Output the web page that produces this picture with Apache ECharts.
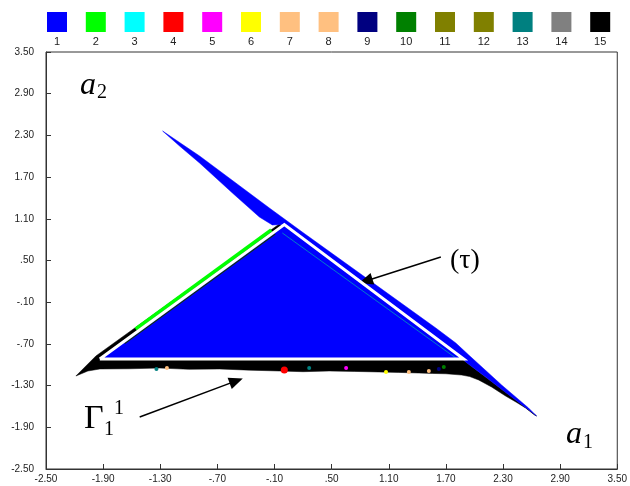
<!DOCTYPE html>
<html>
<head>
<meta charset="utf-8">
<title>basins</title>
<script src="https://cdn.jsdelivr.net/npm/echarts@6/dist/echarts.min.js"></script>
<style>
html, body { margin: 0; padding: 0; background: #fff; }
#chart { width: 630px; height: 486px; }
</style>
</head>
<body>
<div id="chart"></div>
<script>
var chart = echarts.init(document.getElementById('chart'));

// classes shown in the colour strip on top
var classNames = ['1', '2', '3', '4', '5', '6', '7', '8', '9', '10', '11', '12', '13', '14', '15'];
var classColors = ['#0000ff', '#00ff00', '#00ffff', '#ff0000', '#ff00ff', '#ffff00', '#ffc080', '#ffc080',
    '#000080', '#008000', '#808000', '#808000', '#008080', '#808080', '#000000'];
var legendValues = [1, 1, 1, 1, 1, 1, 1, 1, 1, 1, 1, 1, 1, 1, 1];

// tick values, same on both axes
var axisTicks = [-2.5, -1.9, -1.3, -0.7, -0.1, 0.5, 1.1, 1.7, 2.3, 2.9, 3.5];

// basin of class 15 (black band under the triangle)
var basinBlack = [
    [-2.186, -1.162], [-1.976, -0.874], [-0.050, 1.025], [0.055, 0.968], [1.908, -0.960],
    [2.599, -1.680], [2.652, -1.737], [2.631, -1.723], [2.537, -1.622], [2.440, -1.540],
    [2.327, -1.450], [2.180, -1.320], [2.044, -1.219], [1.950, -1.170], [1.866, -1.148],
    [1.700, -1.130], [1.560, -1.125], [1.416, -1.119], [1.200, -1.110], [0.997, -1.104],
    [0.740, -1.096], [0.474, -1.090], [0.200, -1.100], [-0.050, -1.090], [-0.360, -1.078],
    [-0.678, -1.061], [-1.000, -1.066], [-1.306, -1.047], [-1.620, -1.058], [-1.935, -1.061],
    [-2.060, -1.090]
];

// basin of class 1 outside the triangle (upper streak, right strip, tail)
var basinBlue = [
    [-1.275, 2.363], [-0.887, 2.004], [-0.605, 1.716], [-0.154, 1.255], [0.191, 0.910],
    [0.893, 0.219], [1.594, -0.471], [1.804, -0.687], [1.940, -0.860], [2.285, -1.291],
    [2.568, -1.622], [2.652, -1.737],
    [2.599, -1.680], [2.390, -1.464], [2.118, -1.176], [1.908, -0.960], [1.887, -0.917],
    [0.003, 1.018], [-0.123, 1.011],
    [-0.259, 1.126], [-0.542, 1.471], [-0.887, 1.903], [-1.097, 2.147]
];

// the triangle (tau)
var triangleTau = [[-1.935, -0.917], [0.003, 1.018], [1.887, -0.917]];

// thin strips along the edges
var greenEdge = [[-1.558, -0.486], [-0.134, 0.939]];
var innerLeftEdge = [[-1.673, -0.694], [-0.092, 0.881]];
var innerRightEdge = [[-0.018, 0.896], [1.804, -0.903]];

// small blobs of other classes in the black band: [a1, a2, class]
var specks = [
    [0.003, -1.076, 4], [0.652, -1.047, 5], [1.071, -1.104, 6], [1.311, -1.104, 7],
    [1.521, -1.090, 8], [1.626, -1.061, 9], [1.678, -1.032, 10], [0.264, -1.047, 13],
    [-1.340, -1.061, 13], [-1.230, -1.047, 7]
];

// annotation arrows: [from, to]
var tauArrow = [[1.647, 0.550], [0.858, 0.206]];
var gammaArrow = [[-1.516, -1.752], [-0.502, -1.232]];

var fmtTick = function(v) {
    return v.toFixed(2).replace(/^(-?)0\./, '$1.');
};

var regionSeries = function(name, pts, color, z) {
    return {
        type: 'custom',
        name: name,
        xAxisIndex: 1,
        yAxisIndex: 1,
        z: z,
        silent: true,
        clip: true,
        data: [pts[0]],
        renderItem: function(params, api) {
            return {
                type: 'polygon',
                shape: { points: pts.map(function(p) { return api.coord(p); }) },
                style: { fill: color, stroke: color, lineWidth: 0.5 }
            };
        }
    };
};

var edgeSeries = function(pts, color, width, z, opacity) {
    return {
        type: 'line',
        xAxisIndex: 1,
        yAxisIndex: 1,
        z: z,
        silent: true,
        showSymbol: false,
        symbol: 'none',
        data: pts,
        lineStyle: { color: color, width: width, opacity: opacity || 1, join: 'miter' }
    };
};

var valueAxis = function(isX) {
    return {
        gridIndex: 1,
        type: 'value',
        min: -2.5,
        max: 3.5,
        axisLine: { show: true, onZero: false, lineStyle: { color: '#333', width: 1 } },
        axisTick: { show: true, inside: true, length: 5, customValues: axisTicks, lineStyle: { color: '#333' } },
        axisLabel: {
            customValues: axisTicks,
            formatter: fmtTick,
            fontSize: 10,
            fontFamily: 'Liberation Sans',
            color: '#222',
            margin: isX ? 5 : 12
        },
        splitLine: { show: false }
    };
};

var serif = '"Liberation Serif", "DejaVu Serif", serif';

option = {
    animation: false,
    backgroundColor: '#fff',
    grid: [
        { left: 37.6, top: 12, width: 582, height: 20 },
        { left: 46, top: 52, width: 573, height: 417, show: true, borderColor: '#333', borderWidth: 1 }
    ],
    xAxis: [
        {
            gridIndex: 0,
            type: 'category',
            data: classNames,
            axisLine: { show: false },
            axisTick: { show: false },
            axisLabel: { fontSize: 11, fontFamily: 'Liberation Sans', color: '#222', margin: 4 }
        },
        valueAxis(true)
    ],
    yAxis: [
        { gridIndex: 0, type: 'value', min: 0, max: 1, show: false },
        valueAxis(false)
    ],
    series: [
        {
            type: 'bar',
            xAxisIndex: 0,
            yAxisIndex: 0,
            silent: true,
            barWidth: 20,
            data: legendValues.map(function(v, i) {
                return { value: v, itemStyle: { color: classColors[i] } };
            })
        },
        regionSeries('15', basinBlack, classColors[14], 1),
        regionSeries('1', basinBlue, classColors[0], 2),
        regionSeries('1', triangleTau, classColors[0], 3),
        edgeSeries(greenEdge, classColors[1], 3.5, 4),
        edgeSeries(innerLeftEdge, '#103010', 1.2, 4),
        edgeSeries(innerRightEdge, '#00b0b0', 1, 4, 0.7),
        {
            type: 'scatter',
            xAxisIndex: 1,
            yAxisIndex: 1,
            z: 5,
            silent: true,
            data: specks,
            symbolSize: function(d) { return d[2] === 4 ? 7 : 4; },
            itemStyle: {
                opacity: 1,
                color: function(p) { return classColors[p.data[2] - 1]; }
            }
        },
        edgeSeries(triangleTau.concat([triangleTau[0]]), '#ffffff', 3, 6),
        {
            type: 'line',
            xAxisIndex: 1,
            yAxisIndex: 1,
            z: 7,
            data: [],
            markLine: {
                silent: true,
                animation: false,
                symbol: ['none', 'triangle'],
                symbolSize: [12, 14],
                label: { show: false },
                lineStyle: { color: '#000', width: 1.5, type: 'solid' },
                data: [
                    [{ coord: tauArrow[0] }, { coord: tauArrow[1] }],
                    [{ coord: gammaArrow[0] }, { coord: gammaArrow[1] }]
                ]
            }
        }
    ],
    graphic: [
        { type: 'text', x: 80, y: 86, style: { text: 'a', font: 'italic 32px ' + serif, fill: '#000', verticalAlign: 'middle' } },
        { type: 'text', x: 97, y: 93, style: { text: '2', font: '20px ' + serif, fill: '#000', verticalAlign: 'middle' } },
        { type: 'text', x: 566, y: 435, style: { text: 'a', font: 'italic 32px ' + serif, fill: '#000', verticalAlign: 'middle' } },
        { type: 'text', x: 583, y: 443, style: { text: '1', font: '20px ' + serif, fill: '#000', verticalAlign: 'middle' } },
        { type: 'text', x: 84, y: 419, style: { text: 'Γ', font: '34px ' + serif, fill: '#000', verticalAlign: 'middle' } },
        { type: 'text', x: 104, y: 430, style: { text: '1', font: '20px ' + serif, fill: '#000', verticalAlign: 'middle' } },
        { type: 'text', x: 114, y: 409, style: { text: '1', font: '20px ' + serif, fill: '#000', verticalAlign: 'middle' } },
        { type: 'text', x: 450, y: 261, style: { text: '(τ)', font: '28px ' + serif, fill: '#000', verticalAlign: 'middle' } }
    ]
};

chart.setOption(option);
</script>
</body>
</html>
